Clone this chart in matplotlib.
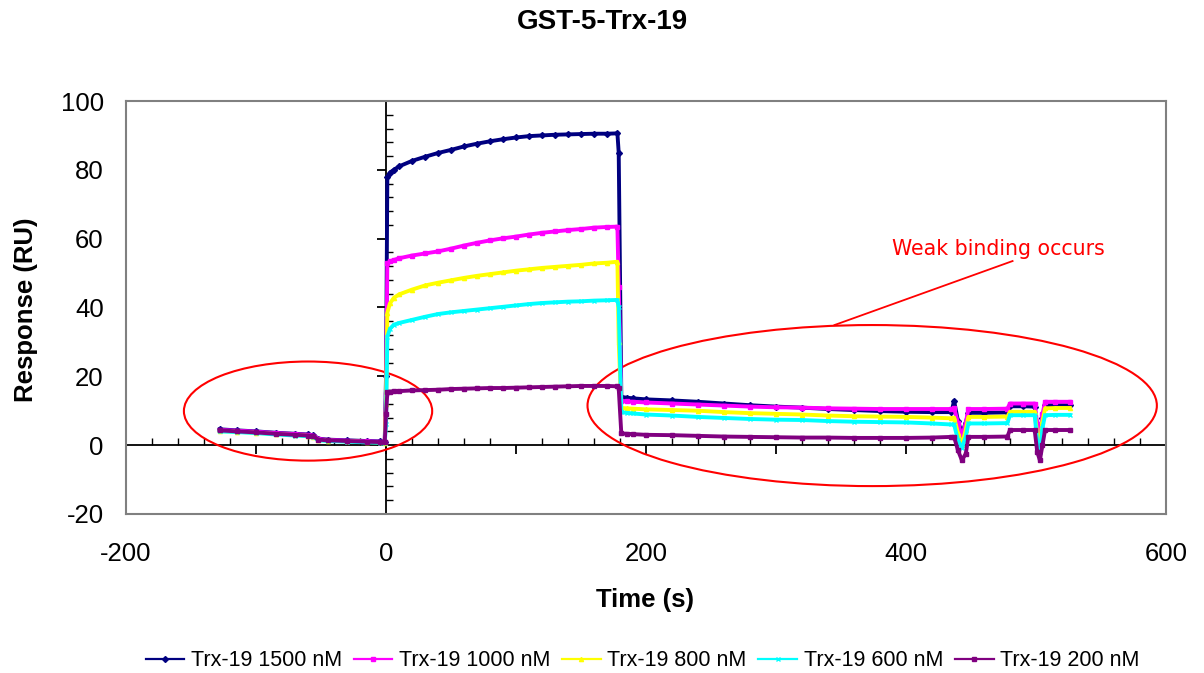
import matplotlib
matplotlib.use("Agg")
import matplotlib.pyplot as plt
from matplotlib.patches import Ellipse
from matplotlib.ticker import MultipleLocator, FixedLocator

plt.rcParams['font.family'] = ['Liberation Sans', 'DejaVu Sans']
plt.rcParams['axes.unicode_minus'] = False

# common time axis (s)
t_base = [-128, -115, -100, -85, -70, -60, -56, -52, -45, -30, -15, -5, -1]
t_assoc = [0, 1, 3, 6, 10, 20, 30, 40, 50, 60, 70, 80, 90, 100, 110, 120,
           130, 140, 150, 160, 170, 178]
t_dissoc = [179, 181, 185, 190, 200, 220, 240, 260, 280, 300, 320, 340, 360,
            380, 400, 420, 435, 437, 440, 443, 446, 448, 460, 478, 480, 490,
            499, 501, 503, 505, 507, 515, 526]
time_s = t_base + t_assoc + t_dissoc

trx_1500 = ([4.6, 4.3, 4.0, 3.6, 3.3, 3.1, 2.9, 1.9, 1.6, 1.4, 1.2, 1.1, 1.0]
            + [20, 77.8, 79.2, 80.0, 81.0, 82.6, 83.8, 84.9, 85.8, 86.8, 87.6,
               88.3, 88.9, 89.4, 89.8, 90.0, 90.2, 90.3, 90.4, 90.5, 90.5, 90.6]
            + [85, 14.0, 13.8, 13.6, 13.3, 13.0, 12.6, 12.1, 11.6, 11.2, 10.9,
               10.5, 10.2, 9.9, 9.7, 9.6, 9.6, 12.9, 7.0, 3.5, 6.5, 9.4, 9.4,
               9.5, 11.3, 11.3, 11.2, 5.0, 1.5, 8.0, 11.6, 11.6, 11.6])
trx_1000 = ([4.4, 4.2, 3.9, 3.5, 3.2, 3.0, 2.8, 1.8, 1.5, 1.3, 1.1, 1.0, 0.9]
            + [15, 52.8, 53.4, 53.8, 54.3, 55.1, 55.7, 56.3, 57.1, 58.0, 58.8,
               59.5, 60.1, 60.6, 61.2, 61.7, 62.1, 62.5, 62.8, 63.2, 63.4, 63.5]
            + [46, 12.8, 12.7, 12.6, 12.4, 12.1, 11.8, 11.5, 11.2, 11.0, 10.9,
               10.7, 10.6, 10.5, 10.5, 10.5, 10.5, 10.8, 6.5, 2.5, 6.5, 10.5,
               10.5, 10.6, 12.1, 12.1, 12.1, 6.0, 2.4, 9.0, 12.6, 12.6, 12.6])
trx_800 = ([4.1, 3.9, 3.6, 3.2, 2.9, 2.7, 2.5, 1.5, 1.3, 1.1, 0.9, 0.8, 0.7]
           + [12, 38.5, 41.2, 42.8, 43.8, 45.2, 46.4, 47.2, 47.9, 48.6, 49.2,
              49.7, 50.2, 50.7, 51.1, 51.5, 51.8, 52.1, 52.4, 52.8, 53.0, 53.3]
           + [30, 10.8, 10.7, 10.6, 10.4, 10.2, 10.0, 9.6, 9.3, 9.1, 8.9, 8.6,
              8.4, 8.3, 8.2, 8.0, 7.8, 8.0, 3.5, 0.0, 4.5, 8.2, 8.2, 8.3, 9.7,
              9.7, 9.7, 3.0, 0.0, 7.0, 10.7, 10.8, 10.8])
trx_600 = ([4.0, 3.8, 3.5, 3.1, 2.8, 2.6, 2.4, 1.4, 1.2, 1.0, 0.8, 0.7, 0.6]
           + [6, 31.5, 33.8, 35.0, 35.5, 36.4, 37.3, 38.1, 38.6, 39.0, 39.4,
              39.8, 40.2, 40.6, 41.0, 41.3, 41.5, 41.7, 41.8, 42.0, 42.1, 42.2]
           + [40, 9.6, 9.4, 9.2, 8.9, 8.6, 8.2, 7.9, 7.6, 7.4, 7.3, 7.0, 6.8,
              6.7, 6.6, 6.3, 6.0, 6.0, 1.5, -0.9, 2.5, 6.3, 6.3, 6.4, 8.7, 8.7,
              8.7, 1.0, -1.9, 5.0, 8.7, 8.8, 8.8])
trx_200 = ([4.3, 4.0, 3.7, 3.3, 3.0, 2.8, 2.6, 1.6, 1.4, 1.2, 1.0, 0.9, 0.8]
           + [9, 15.3, 15.5, 15.6, 15.7, 15.9, 16.0, 16.1, 16.3, 16.4, 16.5,
              16.6, 16.6, 16.7, 16.8, 16.9, 17.0, 17.1, 17.2, 17.2, 17.2, 17.1]
           + [16.5, 3.4, 3.3, 3.2, 3.0, 2.9, 2.7, 2.5, 2.4, 2.3, 2.2, 2.2, 2.1,
              2.1, 2.1, 2.2, 2.4, 2.4, -1.5, -4.4, -2.5, 2.4, 2.4, 2.5, 4.4,
              4.4, 4.4, -2.0, -4.4, 0.0, 4.4, 4.4, 4.4])

labels = ['Trx-19 1500 nM', 'Trx-19 1000 nM', 'Trx-19 800 nM',
          'Trx-19 600 nM', 'Trx-19 200 nM']
series = [trx_1500, trx_1000, trx_800, trx_600, trx_200]
colors = ['#000080', '#FF00FF', '#FFFF00', '#00FFFF', '#800080']
markers = ['D', 's', '^', 'x', 's']

fig = plt.figure(figsize=(12.04, 6.73), dpi=100)
pos = [0.1047, 0.2363, 0.8637, 0.6136]

# axes crossing at zero, drawn underneath the data
axz = fig.add_axes(pos, facecolor='white', zorder=0)
axz.set_xlim(-200, 600)
axz.set_ylim(-20, 100)
for s in ['top', 'right']:
    axz.spines[s].set_visible(False)
axz.spines['left'].set_position(('data', 0))
axz.spines['bottom'].set_position(('data', 0))
axz.spines['left'].set_linewidth(1.3)
axz.spines['bottom'].set_linewidth(1.3)
axz.xaxis.set_major_locator(MultipleLocator(100))
axz.xaxis.set_minor_locator(MultipleLocator(20))
axz.yaxis.set_major_locator(MultipleLocator(20))
axz.yaxis.set_minor_locator(MultipleLocator(4))
axz.tick_params(which='major', direction='out', length=6.5, width=1.3,
                labelbottom=False, labelleft=False)
axz.tick_params(which='minor', direction='in', length=5, width=1.0)

# data axes with grey frame and outer tick labels
ax = fig.add_axes(pos, facecolor='none', zorder=1)
for s in ax.spines.values():
    s.set_color('#808080')
    s.set_linewidth(1.5)
for y, c, m, lab in zip(series, colors, markers, labels):
    ax.plot(time_s, y, color=c, lw=2.8, marker=m, ms=3, mew=1.0,
            label=lab)
ax.set_xlim(-200, 600)
ax.set_ylim(-20, 100)
ax.xaxis.set_major_locator(FixedLocator([-200, 0, 200, 400, 600]))
ax.yaxis.set_major_locator(MultipleLocator(20))
ax.tick_params(length=0, labelsize=18.5, pad=16)
ax.tick_params(axis='x', pad=20)

# ellipses and annotation
ax.add_patch(Ellipse((-60, 9.9), 191, 28.8, fill=False, ec='red', lw=1.5))
ax.add_patch(Ellipse((374, 11.5), 438, 46.8, fill=False, ec='red', lw=1.5))
ax.plot([482, 345], [53.5, 34.9], color='red', lw=1.3)
ax.text(471, 57.0, 'Weak binding occurs', color='red', fontsize=14.8,
        ha='center', va='center', family=['DejaVu Sans'])

fig.text(0.5, 0.967, 'GST-5-Trx-19', ha='center', va='center',
         fontsize=20, fontweight='bold')
fig.text(0.536, 0.108, 'Time (s)', ha='center', va='center',
         fontsize=18.5, fontweight='bold')
fig.text(0.022, 0.54, 'Response (RU)', ha='center', va='center',
         rotation=90, fontsize=18.5, fontweight='bold')

handles, labs = ax.get_legend_handles_labels()
leg = fig.legend(handles, labs, loc='center', bbox_to_anchor=(0.5336, 0.018),
                 ncol=5, frameon=False, fontsize=15.5, handlelength=1.8,
                 handletextpad=0.3, columnspacing=0.55, borderaxespad=0)
for h in leg.legend_handles:
    h.set_linewidth(1.6)

fig.savefig('out.png', dpi=100)
